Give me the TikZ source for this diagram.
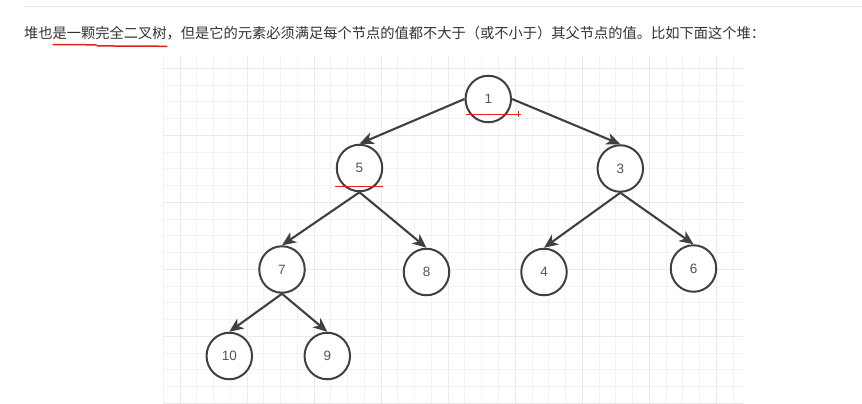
\documentclass[tikz,border=0pt]{standalone}
\usepackage{fontspec}
\setsansfont{Liberation Sans}
\newfontfamily\cjk{Noto Sans CJK SC}
\usetikzlibrary{shapes.geometric,arrows.meta}
\definecolor{ink}{HTML}{404040}
\definecolor{txt}{HTML}{333333}
\definecolor{lbl}{HTML}{555555}
\definecolor{gridminor}{HTML}{F2F2F2}
\definecolor{gridmajor}{HTML}{EAEAEA}
\definecolor{redmarkc}{HTML}{E3201B}
\definecolor{rulec}{HTML}{EBEBEB}
\begin{document}
\begin{tikzpicture}[x=1pt,y=-1pt,
  heapnode/.style={ellipse, draw=ink, fill=white, line width=2pt, minimum width=45.5pt, minimum height=46.5pt, inner sep=0pt, font=\sffamily\fontsize{13.5}{13.5}\selectfont, text=lbl},
  edgearrow/.style={draw=ink, line width=2.1pt, -{Stealth[length=14pt,width=12pt,inset=4pt]}},
  redmark/.style={draw=redmarkc, line width=1.5pt},
  minorline/.style={draw=gridminor, line width=1pt},
  majorline/.style={draw=gridmajor, line width=1pt}]
\useasboundingbox[fill=white] (0,0) rectangle (862,404);
% top rule
\draw[rulec, line width=1pt] (24,6.7) -- (862,6.7);
% grid
\begin{scope}
\clip (162.8,56) rectangle (743,404);
\foreach \k in {0,...,34} \draw[minorline] ({163.3+16.76*\k},56) -- ++(0,348);
\foreach \j in {0,...,20} \draw[minorline] (162.8,{68.3+16.76*\j}) -- (743,{68.3+16.76*\j});
\foreach \k in {1,5,...,33} \draw[majorline] ({163.3+16.76*\k},56) -- ++(0,348);
\foreach \j in {0,4,...,20} \draw[majorline] (162.8,{68.3+16.76*\j}) -- (743,{68.3+16.76*\j});
\end{scope}
% title
\node[anchor=base west, inner sep=0pt, text=txt, font=\cjk\fontsize{14.25}{17}\selectfont] (title) at (24,39) {堆也是一颗完全二叉树，但是它的元素必须满足每个节点的值都不大于（或不小于）其父节点的值。比如下面这个堆：};
\draw[redmark] (52.7,44.6) -- (96.7,44.8);
\draw[redmark] (96.7,45.9) -- (167.3,46.3);
% nodes
\node[heapnode] (n1) at (488.3,99) {1};
\node[heapnode] (n5) at (359.5,168) {5};
\node[heapnode] (n3) at (620.3,168.5) {3};
\node[heapnode] (n7) at (282,269.5) {7};
\node[heapnode] (n8) at (426.5,272) {8};
\node[heapnode] (n4) at (544,272) {4};
\node[heapnode] (n6) at (693.5,268.5) {6};
\node[heapnode] (n10) at (229.3,356) {10};
\node[heapnode] (n9) at (327.3,356) {9};
% edges
\draw[edgearrow] (n1.west) -- (n5.north);
\draw[edgearrow] (n1.east) -- (n3.north);
\draw[edgearrow] (n5.south) -- (n7.north);
\draw[edgearrow] (n5.south) -- (n8.north);
\draw[edgearrow] (n3.south) -- (n4.north);
\draw[edgearrow] (n3.south) -- (n6.north);
\draw[edgearrow] (n7.south) -- (n10.north);
\draw[edgearrow] (n7.south) -- (n9.north);
% red marks
\draw[redmark] (466,114.3) -- (520.5,114.3);
\draw[redmark] (518.7,111.3) -- (518.7,117.3);
\draw[redmark] (335,186.7) -- (383.3,186.7);
\end{tikzpicture}
\end{document}
